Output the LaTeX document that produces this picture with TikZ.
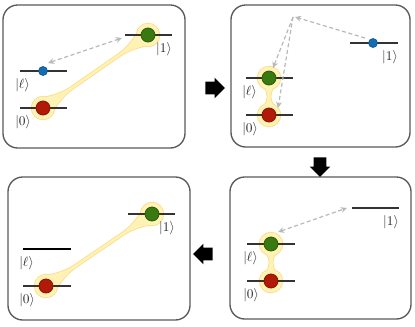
\documentclass[tikz,border=0pt]{standalone}
\usepackage{amsmath}
\usepackage{tikz}
\usetikzlibrary{calc,arrows.meta,shapes.arrows}

\definecolor{glowfill}{RGB}{255,242,180}
\definecolor{glowedge}{RGB}{250,222,140}
\definecolor{dotred}{RGB}{176,26,6}
\definecolor{dotgreen}{RGB}{58,120,16}
\definecolor{dotblue}{RGB}{20,108,178}

\newcommand{\bandpath}[3]{%
    ($(#1)!8pt!90:(#2)$)
    .. controls ($(#1)!\tapa pt!(#2)!4pt!90:(#2)$) and ($(#1)!\tapb pt!(#2)!#3!90:(#2)$) .. ($(#1)!\tapc pt!(#2)!#3!90:(#2)$)
    -- ($(#2)!\tapc pt!(#1)!#3!-90:(#1)$)
    .. controls ($(#2)!\tapb pt!(#1)!#3!-90:(#1)$) and ($(#2)!\tapa pt!(#1)!4pt!-90:(#1)$) .. ($(#2)!8pt!-90:(#1)$)
    -- ($(#2)!8pt!90:(#1)$)
    .. controls ($(#2)!\tapa pt!(#1)!4pt!90:(#1)$) and ($(#2)!\tapb pt!(#1)!#3!90:(#1)$) .. ($(#2)!\tapc pt!(#1)!#3!90:(#1)$)
    -- ($(#1)!\tapc pt!(#2)!#3!-90:(#2)$)
    .. controls ($(#1)!\tapb pt!(#2)!#3!-90:(#2)$) and ($(#1)!\tapa pt!(#2)!4pt!-90:(#2)$) .. ($(#1)!8pt!-90:(#2)$)
    -- cycle}
\newcommand{\glowbond}[4]{%
    \pgfmathsetmacro{\tapa}{0.35*#4}%
    \pgfmathsetmacro{\tapb}{0.7*#4}%
    \pgfmathsetmacro{\tapc}{#4}%
    \draw[glowedge, line width=1.3pt] (#1) circle[radius=8.5pt] (#2) circle[radius=8.5pt];
    \draw[glowedge, line width=1.3pt] \bandpath{#1}{#2}{#3};
    \fill[glowfill] (#1) circle[radius=8.5pt] (#2) circle[radius=8.5pt];
    \fill[glowfill] \bandpath{#1}{#2}{#3};
}

\tikzset{hoptip/.tip={Stealth[length=4.6pt,width=4.4pt]}}

\begin{document}
\begin{tikzpicture}[
        x=0.75pt,
        y=-0.75pt,
        panel/.style={
            draw=black!65,
            line width=1pt,
            rounded corners=11pt
        },
        level/.style={
            draw=black!80,
            line width=0.8pt
        },
        ket/.style={
            text=black!85,
            inner sep=0pt
        },
        bigdot/.style={
            circle,
            draw=#1!75!black,
            fill=#1,
            line width=0.6pt,
            minimum size=10.5pt,
            inner sep=0pt
        },
        smalldot/.style={
            circle,
            draw=#1!75!black,
            fill=#1,
            line width=0.4pt,
            minimum size=6.8pt,
            inner sep=0pt
        },
        hop/.style={
            densely dashed,
            draw=black!28,
            line width=0.9pt
        },
        turn/.style={
            single arrow,
            fill=black,
            draw=none,
            minimum height=14.5pt,
            inner xsep=0pt,
            inner ysep=4.5pt,
            single arrow head extend=3pt
        }
    ]

        \useasboundingbox (0,0) rectangle (415,326);

        \draw[panel] (3,5) rectangle (185,148);
        \draw[panel] (231,5) rectangle (410,147);
        \draw[panel] (230,177) rectangle (411,319);
        \draw[panel] (8,177) rectangle (190,320);

        \node[turn] (turnone) at (212,88) {};
        \node[turn, rotate=-90] (turntwo) at (320,164) {};
        \node[turn, rotate=180] (turnthree) at (206,254) {};

        % step one
        \coordinate (zeroA) at (43,108);
        \coordinate (oneA) at (148,35);
        \glowbond{zeroA}{oneA}{0.9pt}{26}
        \draw[level] (20,108) -- (67,108);
        \draw[level] (20,71) -- (67,71);
        \draw[level] (125,35) -- (172,35);
        \node[bigdot=dotred] (redA) at (zeroA) {};
        \node[bigdot=dotgreen] (greenA) at (oneA) {};
        \node[smalldot=dotblue] (blueA) at (43,71) {};
        \node[ket, anchor=north west] (kzeroA) at (15,115) {$|0\rangle$};
        \node[ket, anchor=north west] (kellA) at (15,78) {$|\ell\rangle$};
        \node[ket, anchor=north east] (koneA) at (172,42) {$|1\rangle$};
        \draw[hop, hoptip-hoptip] ($(blueA)+(5,-8)$) -- ($(greenA)+(-26,3)$);

        % step two
        \coordinate (zeroB) at (269,115);
        \coordinate (ellB) at (269,78);
        \glowbond{zeroB}{ellB}{1.1pt}{13.9}
        \draw[level] (246,115) -- (293,115);
        \draw[level] (246,78) -- (293,78);
        \draw[level] (350,43) -- (398,43);
        \node[bigdot=dotred] (redB) at (zeroB) {};
        \node[bigdot=dotgreen] (greenB) at (ellB) {};
        \node[smalldot=dotblue] (blueB) at (373,43) {};
        \coordinate (apexB) at (293,17);
        \node[ket, anchor=north west] (kzeroB) at (242,122) {$|0\rangle$};
        \node[ket, anchor=north west] (kellB) at (242,85) {$|\ell\rangle$};
        \node[ket, anchor=north east] (koneB) at (398,50) {$|1\rangle$};
        \draw[hop, -hoptip] ($(blueB)+(-8,-5)$) -- ($(apexB)+(2,0)$);
        \draw[hop, -hoptip] (apexB) -- ($(greenB)+(4,-10)$);
        \draw[hop, -hoptip] (apexB) -- ($(redB)+(9,-7)$);

        % step three
        \coordinate (zeroC) at (271,281);
        \coordinate (ellC) at (271,244);
        \glowbond{zeroC}{ellC}{1.1pt}{13.9}
        \draw[level] (247,281) -- (295,281);
        \draw[level] (247,244) -- (295,244);
        \draw[level] (352,208) -- (399,208);
        \node[bigdot=dotred] (redC) at (zeroC) {};
        \node[bigdot=dotgreen] (greenC) at (ellC) {};
        \coordinate (oneC) at (352,208);
        \node[ket, anchor=north west] (kzeroC) at (243,288) {$|0\rangle$};
        \node[ket, anchor=north west] (kellC) at (243,251) {$|\ell\rangle$};
        \node[ket, anchor=north east] (koneC) at (399,215) {$|1\rangle$};
        \draw[hop, hoptip-hoptip] ($(greenC)+(7,-12)$) -- ($(oneC)+(-5,0)$);

        % step four
        \coordinate (zeroD) at (46,286);
        \coordinate (oneD) at (152,214);
        \glowbond{zeroD}{oneD}{0.9pt}{26}
        \draw[level] (23,286) -- (71,286);
        \draw[level, draw=black] (23,249) -- (71,249);
        \draw[level] (128,214) -- (175,214);
        \node[bigdot=dotred] (redD) at (zeroD) {};
        \node[bigdot=dotgreen] (greenD) at (oneD) {};
        \node[ket, anchor=north west] (kzeroD) at (19,293) {$|0\rangle$};
        \node[ket, anchor=north west] (kellD) at (19,256) {$|\ell\rangle$};
        \node[ket, anchor=north east] (koneD) at (175,221) {$|1\rangle$};

    \end{tikzpicture}
\end{document}
